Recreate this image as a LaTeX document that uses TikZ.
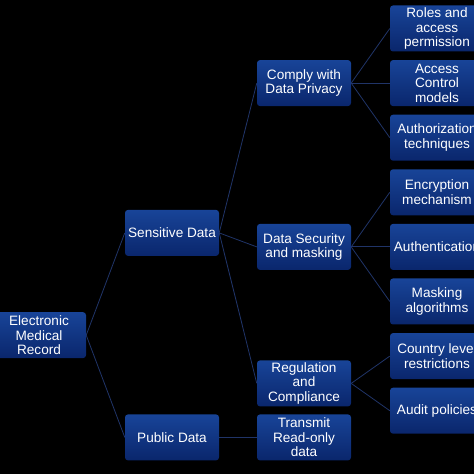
\documentclass[tikz,border=0pt]{standalone}
\usepackage{fontspec}
\setmainfont{Liberation Sans}
\usetikzlibrary{positioning,calc}
\definecolor{colorBoxTop}{RGB}{24,68,152}
\definecolor{colorBoxBot}{RGB}{10,38,108}
\definecolor{colorLink}{RGB}{32,52,104}
\tikzset{
   box/.style={rectangle,rounded corners=3pt,top color=colorBoxTop,bottom color=colorBoxBot,text=white,minimum width=94pt,minimum height=46pt,inner sep=1pt,align=center,font=\fontsize{13.6}{14.6}\selectfont},
   link/.style={-,color=colorLink,line width=0.8pt},
}

\begin{document}
\begin{tikzpicture}
      \fill[black] (0,0) rectangle (474pt,474pt);
      \useasboundingbox (0,0) rectangle (474pt,474pt);

      % right column
      \node[box] (roles) at (437pt,445.5pt)
        {Roles and\\access\\permission};

      \node[box] (acc) [below of = roles, node distance = 54.6pt]
        {Access\\Control\\models};

      \node[box] (authz) [below of = acc, node distance = 54.6pt]
        {Authorization\\techniques};

      \node[box] (encr) [below of = authz, node distance = 54.6pt]
        {Encryption\\mechanism};

      \node[box] (authn) [below of = encr, node distance = 54.6pt]
        {Authentication};

      \node[box] (mask) [below of = authn, node distance = 54.6pt]
        {Masking\\algorithms};

      \node[box] (country) [below of = mask, node distance = 54.6pt]
        {Country level\\restrictions};

      \node[box] (audit) [below of = country, node distance = 54.6pt]
        {Audit policies};

      % middle column
      \node[box] (comply) [left of = acc, node distance = 133pt]
        {Comply with\\Data Privacy};

      \node[box] (dsec) [left of = authn, node distance = 133pt]
        {Data Security\\and masking};

      \node[box] (reg) at ($(country)!0.5!(audit) + (-133pt,0)$)
        {Regulation\\and\\Compliance};

      \node[box] (transmit) [below of = reg, node distance = 54pt]
        {Transmit\\Read-only\\data};

      % left columns
      \node[box] (pub) [left of = transmit, node distance = 132pt]
        {Public Data};

      \node[box] (sens) [above of = pub, node distance = 204.5pt]
        {Sensitive Data};

      \node[box] (emr) at ($(sens)!0.5!(pub) + (-133pt,0)$)
        {Electronic\\Medical\\Record};

      \draw[link] (emr.east) -- (sens.west);
      \draw[link] (emr.east) -- (pub.west);
      \draw[link] (sens.east) -- (comply.west);
      \draw[link] (sens.east) -- (dsec.west);
      \draw[link] (sens.east) -- (reg.west);
      \draw[link] (pub.east) -- (transmit.west);
      \draw[link] (comply.east) -- (roles.west);
      \draw[link] (comply.east) -- (acc.west);
      \draw[link] (comply.east) -- (authz.west);
      \draw[link] (dsec.east) -- (encr.west);
      \draw[link] (dsec.east) -- (authn.west);
      \draw[link] (dsec.east) -- (mask.west);
      \draw[link] (reg.east) -- (country.west);
      \draw[link] (reg.east) -- (audit.west);
\end{tikzpicture}
\end{document}
